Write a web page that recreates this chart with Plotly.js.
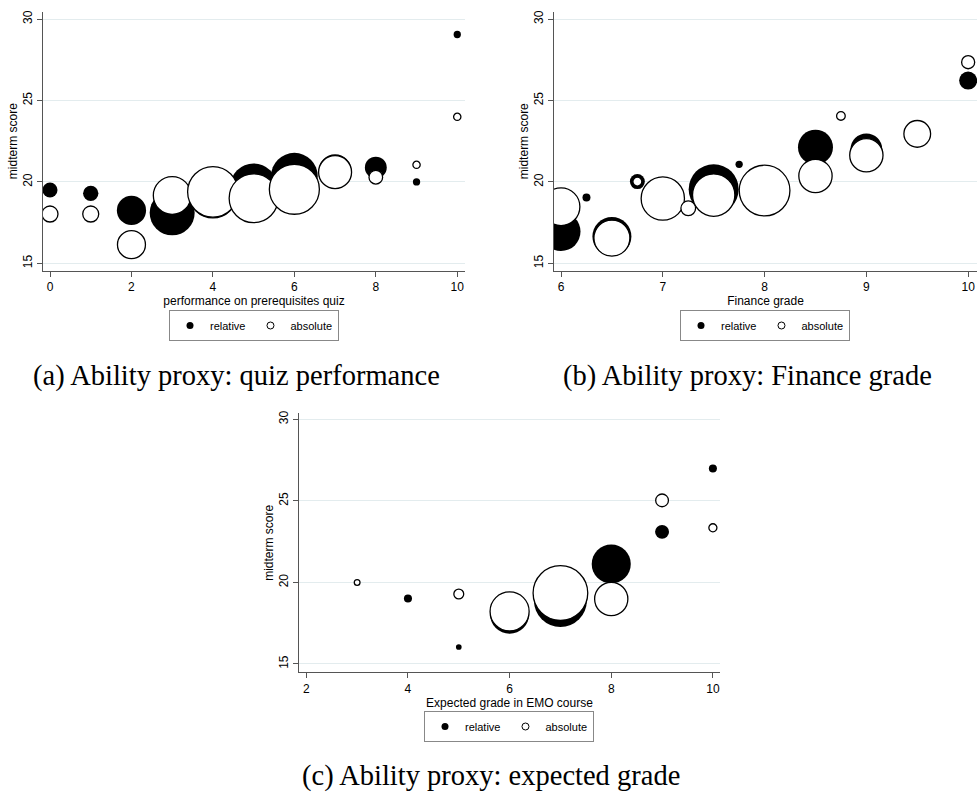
<!DOCTYPE html>
<html>
<head>
<meta charset="utf-8">
<script src="https://cdn.plot.ly/plotly-3.0.1.min.js"></script>
<style>
html,body{margin:0;padding:0;background:#fff;}
#chart{width:978px;height:796px;}
</style>
</head>
<body>
<div id="chart"></div>
<script>
// ---------- Data ----------
// Panel (a): performance on prerequisites quiz
const quizRelX = [0, 1, 2, 3, 4, 5, 6, 7, 8, 9, 10];
const quizRelY = [19.5, 19.3, 18.25, 18.1, 19.25, 19.7, 20.35, 20.7, 20.88, 20.0, 29.05];
const quizRelW = [4.2, 4.4, 16, 38, 45, 41, 41, 20, 9, 1, 1];
const quizAbsX = [0, 1, 2, 3, 4, 5, 6, 7, 8, 9, 10];
const quizAbsY = [18.03, 18.03, 16.15, 19.17, 19.39, 19.0, 19.55, 20.6, 20.29, 21.05, 24.0];
const quizAbsW = [4.8, 4.8, 14.7, 26.7, 48, 45, 47, 20.4, 3.5, 1, 1];

// Panel (b): Finance grade
const finRelX = [6, 6.25, 6.5, 6.75, 7.5, 7.75, 8.5, 9, 10];
const finRelY = [16.95, 19.05, 16.65, 20.02, 19.55, 21.08, 22.13, 22.0, 26.22];
const finRelW = [28.5, 1.2, 28.5, 4.2, 47, 1, 23, 18.9, 6.1];
const finAbsX = [6, 6.5, 6.75, 7, 7.25, 7.5, 8, 8.5, 8.75, 9, 9.5, 10];
const finAbsY = [18.48, 16.55, 20.02, 18.98, 18.38, 19.19, 19.47, 20.37, 24.05, 21.64, 22.95, 27.35];
const finAbsW = [26.7, 24.3, 1.5, 35.2, 4.05, 33.6, 48.2, 20.8, 1.4, 20.8, 13.4, 3.2];

// Panel (c): Expected grade in EMO course
const expRelX = [4, 5, 6, 7, 8, 9, 10];
const expRelY = [19.02, 16.04, 18.05, 18.89, 21.13, 23.1, 26.99];
const expRelW = [2, 1, 47, 86, 47, 6, 2];
const expAbsX = [3, 5, 6, 7, 8, 9, 10];
const expAbsY = [20.0, 19.29, 18.22, 19.35, 18.98, 25.03, 23.35];
const expAbsW = [1, 3, 47, 92, 34, 5, 2];

const seriesNames = ['relative', 'absolute'];
const xTitles = ['performance on prerequisites quiz', 'Finance grade', 'Expected grade in EMO course'];
const yTitle = 'midterm score';
const captions = ['(a) Ability proxy: quiz performance', '(b) Ability proxy: Finance grade', '(c) Ability proxy: expected grade'];
const xTicksA = [0, 2, 4, 6, 8, 10];
const xTicksB = [6, 7, 8, 9, 10];
const xTicksC = [2, 4, 6, 8, 10];
const yTicks = [15, 20, 25, 30];

// ---------- Styling / layout ----------
const W = 978, H = 796;
const SANS = 'Liberation Sans, Arial, sans-serif';
const SERIF = 'Liberation Serif, Times New Roman, serif';
const AXC = '#555';
const GRID = '#e3ecee';

function sref(k) { return 2 / (k * k); }

function relTrace(x, y, w, xa, ya, k) {
  return {type: 'scatter', mode: 'markers', x: x, y: y, xaxis: xa, yaxis: ya,
    showlegend: false, hoverinfo: 'skip',
    marker: {size: w, sizemode: 'area', sizeref: sref(k), color: '#000', opacity: 1, line: {width: 0}}};
}
function absTrace(x, y, w, xa, ya, k) {
  return {type: 'scatter', mode: 'markers', x: x, y: y, xaxis: xa, yaxis: ya,
    showlegend: false, hoverinfo: 'skip',
    marker: {size: w, sizemode: 'area', sizeref: sref(k), color: '#fff', opacity: 1, line: {width: 1.3, color: '#000'}}};
}
function legendTraces(xa, ya, lg) {
  return [
    {type: 'scatter', mode: 'markers', x: [null], y: [null], xaxis: xa, yaxis: ya, name: seriesNames[0], legend: lg,
     marker: {size: 7, color: '#000', opacity: 1, line: {width: 0}}},
    {type: 'scatter', mode: 'markers', x: [null], y: [null], xaxis: xa, yaxis: ya, name: seriesNames[1], legend: lg,
     marker: {size: 7, color: '#fff', opacity: 1, line: {width: 1, color: '#000'}}}
  ];
}

const data = [
  relTrace(quizRelX, quizRelY, quizRelW, 'x', 'y', 7.3),
  absTrace(quizAbsX, quizAbsY, quizAbsW, 'x', 'y', 7.3),
  relTrace(finRelX, finRelY, finRelW, 'x2', 'y2', 7.3),
  absTrace(finAbsX, finAbsY, finAbsW, 'x2', 'y2', 7.3),
  relTrace(expRelX, expRelY, expRelW, 'x3', 'y3', 5.7),
  absTrace(expAbsX, expAbsY, expAbsW, 'x3', 'y3', 5.7)
].concat(legendTraces('x', 'y', 'legend'), legendTraces('x2', 'y2', 'legend2'), legendTraces('x3', 'y3', 'legend3'));

function xAxis(domain, range, ticks, title, anchor) {
  return {domain: domain, range: range, anchor: anchor, tickmode: 'array', tickvals: ticks,
    ticks: 'outside', ticklen: 5, tickwidth: 1, tickcolor: AXC, showline: true, linecolor: AXC, linewidth: 1,
    showgrid: false, zeroline: false, tickfont: {family: SANS, size: 12, color: '#000'},
    title: {text: title, font: {family: SANS, size: 12, color: '#000'}, standoff: 1}};
}
function yAxis(domain, range, anchor) {
  return {domain: domain, range: range, anchor: anchor, tickmode: 'array', tickvals: yTicks, tickangle: -90,
    ticks: 'outside', ticklen: 5, tickwidth: 1, tickcolor: AXC, showline: true, linecolor: AXC, linewidth: 1,
    showgrid: true, gridcolor: GRID, gridwidth: 1, zeroline: false,
    tickfont: {family: SANS, size: 12, color: '#000'},
    title: {text: yTitle, font: {family: SANS, size: 12, color: '#000'}, standoff: 0}};
}
function legendBox(x, y) {
  return {x: x, y: y, xref: 'paper', yref: 'paper', xanchor: 'center', yanchor: 'top', orientation: 'h',
    bgcolor: '#fff', bordercolor: '#888', borderwidth: 1, itemwidth: 30,
    font: {family: SANS, size: 11, color: '#000'}, tracegroupgap: 0};
}

const topDom = [1 - 270.7 / H, 1 - 11.7 / H];
const botDom = [1 - 672.3 / H, 1 - 413.3 / H];

const layout = {
  width: W, height: H, margin: {l: 0, r: 0, t: 0, b: 0}, autosize: false,
  paper_bgcolor: '#fff', plot_bgcolor: '#fff', showlegend: true,
  xaxis: xAxis([43 / W, 465 / W], [-0.172, 10.19], xTicksA, xTitles[0], 'y'),
  yaxis: yAxis(topDom, [14.55, 30.45], 'x'),
  xaxis2: xAxis([554 / W, 977 / W], [5.931, 10.087], xTicksB, xTitles[1], 'y2'),
  yaxis2: yAxis(topDom, [14.55, 30.45], 'x2'),
  xaxis3: xAxis([299 / W, 720 / W], [1.856, 10.14], xTicksC, xTitles[2], 'y3'),
  yaxis3: yAxis(botDom, [14.49, 30.37], 'x3'),
  legend: legendBox(254 / W, 1 - 310 / H),
  legend2: legendBox(765 / W, 1 - 310 / H),
  legend3: legendBox(509 / W, 1 - 711 / H),
  annotations: [
    {text: captions[0], x: 236 / W, y: 1 - 376 / H},
    {text: captions[1], x: 747.5 / W, y: 1 - 376 / H},
    {text: captions[2], x: 491 / W, y: 1 - 776 / H}
  ].map(a => Object.assign(a, {xref: 'paper', yref: 'paper', xanchor: 'center', yanchor: 'middle',
    showarrow: false, font: {family: SERIF, size: 28.5, color: '#000'}}))
};

Plotly.newPlot('chart', data, layout, {displayModeBar: false, staticPlot: true});
</script>
</body>
</html>
